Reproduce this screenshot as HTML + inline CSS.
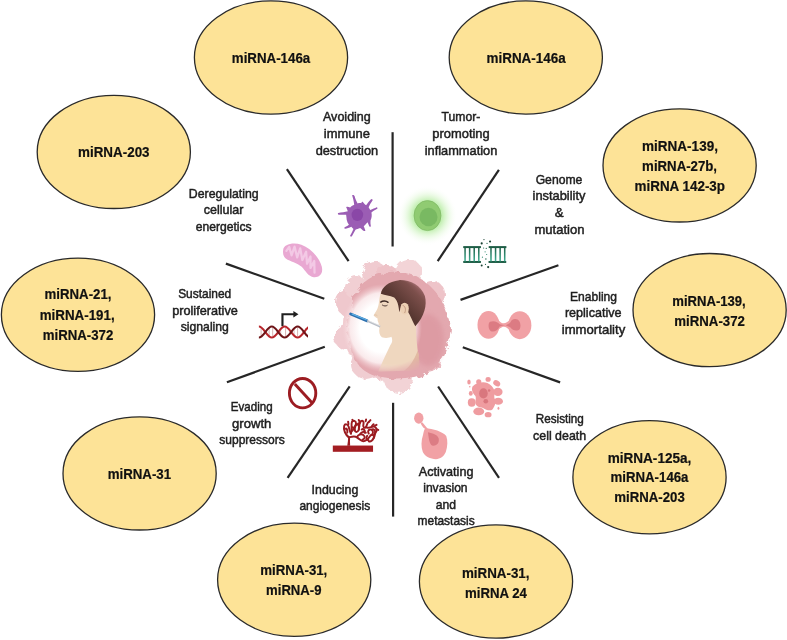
<!DOCTYPE html>
<html><head><meta charset="utf-8"><style>
html,body{margin:0;padding:0;background:#fff;}
svg{display:block;}
.tx{will-change:transform;}
.b{font-family:"Liberation Sans",sans-serif;font-weight:bold;font-size:14px;fill:#111111;stroke:#111;stroke-width:0.2px;}
.r{font-family:"Liberation Sans",sans-serif;font-size:13.5px;fill:#1e1e1e;stroke:#1e1e1e;stroke-width:0.5px;}
</style></head><body>
<div style="will-change:transform;width:787px;height:640px;overflow:hidden"><svg width="787" height="640" viewBox="0 0 787 640">
<defs>
<radialGradient id="glow" cx="50%" cy="50%" r="50%">
<stop offset="0" stop-color="#86dc64" stop-opacity="0.85"/>
<stop offset="0.5" stop-color="#9fe684" stop-opacity="0.6"/>
<stop offset="0.72" stop-color="#cdf3bd" stop-opacity="0.35"/>
<stop offset="1" stop-color="#ffffff" stop-opacity="0"/>
</radialGradient>
<radialGradient id="hole" cx="50%" cy="50%" r="50%">
<stop offset="0" stop-color="#ffffff"/>
<stop offset="0.55" stop-color="#ffffff"/>
<stop offset="0.8" stop-color="#fcf1f2" stop-opacity="0.9"/>
<stop offset="1" stop-color="#f3d0d4" stop-opacity="0"/>
</radialGradient>
<filter id="rough" x="-20%" y="-20%" width="140%" height="140%">
<feTurbulence type="fractalNoise" baseFrequency="0.035" numOctaves="3" seed="5"/>
<feDisplacementMap in="SourceGraphic" scale="28"/>
</filter>
<filter id="rough2" x="-20%" y="-20%" width="140%" height="140%">
<feTurbulence type="fractalNoise" baseFrequency="0.16" numOctaves="3" seed="7"/>
<feDisplacementMap in="SourceGraphic" scale="6"/>
</filter>
<linearGradient id="rung" x1="0" y1="0" x2="0" y2="1">
<stop offset="0" stop-color="#1f6048"/>
<stop offset="1" stop-color="#3fae93"/>
</linearGradient>
<radialGradient id="hm" gradientUnits="userSpaceOnUse" cx="392" cy="322" r="54">
<stop offset="0" stop-color="#fff"/>
<stop offset="0.78" stop-color="#fff"/>
<stop offset="1" stop-color="#000"/>
</radialGradient>
<mask id="headmask" maskUnits="userSpaceOnUse" x="300" y="240" width="180" height="180"><rect x="300" y="240" width="180" height="180" fill="url(#hm)"/></mask>
<linearGradient id="hair" x1="0" y1="1" x2="1" y2="0">
<stop offset="0" stop-color="#4a2e29"/>
<stop offset="0.45" stop-color="#573731"/>
<stop offset="0.75" stop-color="#7c4f4b"/>
<stop offset="1" stop-color="#b97880"/>
</linearGradient>
<filter id="blur1"><feGaussianBlur stdDeviation="2"/></filter>
</defs>
<rect width="787" height="640" fill="#fff"/>

<line x1="392.6" y1="132.2" x2="392.6" y2="246.5" stroke="#262626" stroke-width="2.2"/>
<line x1="286.9" y1="169.2" x2="348.6" y2="261.2" stroke="#262626" stroke-width="2.2"/>
<line x1="225.9" y1="263.6" x2="324.3" y2="298.7" stroke="#262626" stroke-width="2.2"/>
<line x1="226.9" y1="382.3" x2="324.8" y2="346.7" stroke="#262626" stroke-width="2.2"/>
<line x1="349.7" y1="386.4" x2="287.6" y2="477.9" stroke="#262626" stroke-width="2.2"/>
<line x1="393.1" y1="402.8" x2="393.1" y2="516.6" stroke="#262626" stroke-width="2.2"/>
<line x1="438.1" y1="386.5" x2="499.0" y2="477.8" stroke="#262626" stroke-width="2.2"/>
<line x1="462.8" y1="347.3" x2="560.1" y2="382.4" stroke="#262626" stroke-width="2.2"/>
<line x1="558.4" y1="265.2" x2="460.5" y2="299.9" stroke="#262626" stroke-width="2.2"/>
<line x1="498.9" y1="169.8" x2="437.7" y2="261.1" stroke="#262626" stroke-width="2.2"/>
<ellipse cx="271" cy="57.5" rx="76.6" ry="56.6" fill="#FDE397" stroke="#2a2a2a" stroke-width="1.3"/>
<text class="b" x="271.0" y="62.5" text-anchor="middle" textLength="78.4" lengthAdjust="spacingAndGlyphs">miRNA-146a</text>
<ellipse cx="525.8" cy="57.5" rx="76.6" ry="56.6" fill="#FDE397" stroke="#2a2a2a" stroke-width="1.3"/>
<text class="b" x="526.1" y="62.5" text-anchor="middle" textLength="79.0" lengthAdjust="spacingAndGlyphs">miRNA-146a</text>
<ellipse cx="113.8" cy="151.9" rx="76.6" ry="56.6" fill="#FDE397" stroke="#2a2a2a" stroke-width="1.3"/>
<text class="b" x="113.8" y="157.4" text-anchor="middle" textLength="71.5" lengthAdjust="spacingAndGlyphs">miRNA-203</text>
<ellipse cx="679.6" cy="165.4" rx="76.6" ry="56.6" fill="#FDE397" stroke="#2a2a2a" stroke-width="1.3"/>
<text class="b" x="680.0" y="150.7" text-anchor="middle" textLength="75.9" lengthAdjust="spacingAndGlyphs">miRNA-139,</text>
<text class="b" x="679.6" y="170.9" text-anchor="middle" transform="translate(679.6 0) scale(0.945 1) translate(-679.6 0)">miRNA-27b,</text>
<text class="b" x="679.8" y="191.1" text-anchor="middle" textLength="90.4" lengthAdjust="spacingAndGlyphs">miRNA 142-3p</text>
<ellipse cx="78" cy="314.7" rx="76.6" ry="56.6" fill="#FDE397" stroke="#2a2a2a" stroke-width="1.3"/>
<text class="b" x="78" y="299.5" text-anchor="middle" transform="translate(78 0) scale(0.945 1) translate(-78 0)">miRNA-21,</text>
<text class="b" x="77.2" y="319.6" text-anchor="middle" textLength="75.0" lengthAdjust="spacingAndGlyphs">miRNA-191,</text>
<text class="b" x="78" y="340.2" text-anchor="middle" transform="translate(78 0) scale(0.945 1) translate(-78 0)">miRNA-372</text>
<ellipse cx="709.6" cy="310.1" rx="76.6" ry="56.6" fill="#FDE397" stroke="#2a2a2a" stroke-width="1.3"/>
<text class="b" x="709.0" y="305.6" text-anchor="middle" textLength="73.5" lengthAdjust="spacingAndGlyphs">miRNA-139,</text>
<text class="b" x="709.6" y="325.6" text-anchor="middle" transform="translate(709.6 0) scale(0.945 1) translate(-709.6 0)">miRNA-372</text>
<ellipse cx="139.6" cy="473.4" rx="76.6" ry="56.6" fill="#FDE397" stroke="#2a2a2a" stroke-width="1.3"/>
<text class="b" x="139.4" y="479.2" text-anchor="middle" textLength="63.5" lengthAdjust="spacingAndGlyphs">miRNA-31</text>
<ellipse cx="649.5" cy="477.2" rx="76.6" ry="56.6" fill="#FDE397" stroke="#2a2a2a" stroke-width="1.3"/>
<text class="b" x="649.5" y="462.5" text-anchor="middle" textLength="83.7" lengthAdjust="spacingAndGlyphs">miRNA-125a,</text>
<text class="b" x="649.5" y="482.4" text-anchor="middle" transform="translate(649.5 0) scale(0.945 1) translate(-649.5 0)">miRNA-146a</text>
<text class="b" x="649.5" y="502.5" text-anchor="middle" transform="translate(649.5 0) scale(0.945 1) translate(-649.5 0)">miRNA-203</text>
<ellipse cx="294.2" cy="579.8" rx="76.6" ry="56.6" fill="#FDE397" stroke="#2a2a2a" stroke-width="1.3"/>
<text class="b" x="293.8" y="575.1" text-anchor="middle" textLength="67.0" lengthAdjust="spacingAndGlyphs">miRNA-31,</text>
<text class="b" x="293.8" y="595.2" text-anchor="middle" textLength="55.5" lengthAdjust="spacingAndGlyphs">miRNA-9</text>
<ellipse cx="496" cy="581.5" rx="76.6" ry="56.6" fill="#FDE397" stroke="#2a2a2a" stroke-width="1.3"/>
<text class="b" x="495.7" y="578.1" text-anchor="middle" textLength="67.6" lengthAdjust="spacingAndGlyphs">miRNA-31,</text>
<text class="b" x="496" y="598.0" text-anchor="middle" transform="translate(496 0) scale(0.945 1) translate(-496 0)">miRNA 24</text>
<text class="r" x="346.9" y="120.6" text-anchor="middle" textLength="47.8" lengthAdjust="spacingAndGlyphs">Avoiding</text>
<text class="r" x="346.9" y="138.4" text-anchor="middle" textLength="46.1" lengthAdjust="spacingAndGlyphs">immune</text>
<text class="r" x="346.9" y="154.9" text-anchor="middle" textLength="62.5" lengthAdjust="spacingAndGlyphs">destruction</text>
<text class="r" x="460.9" y="120.6" text-anchor="middle" textLength="38.7" lengthAdjust="spacingAndGlyphs">Tumor-</text>
<text class="r" x="461.0" y="137.7" text-anchor="middle" textLength="57.4" lengthAdjust="spacingAndGlyphs">promoting</text>
<text class="r" x="461.0" y="154.9" text-anchor="middle" textLength="72.6" lengthAdjust="spacingAndGlyphs">inflammation</text>
<text class="r" x="223.7" y="197.7" text-anchor="middle" textLength="69.8" lengthAdjust="spacingAndGlyphs">Deregulating</text>
<text class="r" x="223.6" y="214.0" text-anchor="middle" textLength="39.6" lengthAdjust="spacingAndGlyphs">cellular</text>
<text class="r" x="223.7" y="230.8" text-anchor="middle" textLength="55.9" lengthAdjust="spacingAndGlyphs">energetics</text>
<text class="r" x="559.0" y="183.7" text-anchor="middle" textLength="46.7" lengthAdjust="spacingAndGlyphs">Genome</text>
<text class="r" x="559.0" y="200.2" text-anchor="middle" textLength="52.9" lengthAdjust="spacingAndGlyphs">instability</text>
<text class="r" x="559.1" y="216.7" text-anchor="middle" textLength="8.9" lengthAdjust="spacingAndGlyphs">&</text>
<text class="r" x="559.5" y="233.9" text-anchor="middle" textLength="50.1" lengthAdjust="spacingAndGlyphs">mutation</text>
<text class="r" x="204.7" y="298.1" text-anchor="middle" textLength="53.1" lengthAdjust="spacingAndGlyphs">Sustained</text>
<text class="r" x="205.0" y="314.6" text-anchor="middle" textLength="65.6" lengthAdjust="spacingAndGlyphs">proliferative</text>
<text class="r" x="204.8" y="331.2" text-anchor="middle" textLength="48.2" lengthAdjust="spacingAndGlyphs">signaling</text>
<text class="r" x="593.5" y="300.5" text-anchor="middle" textLength="47.0" lengthAdjust="spacingAndGlyphs">Enabling</text>
<text class="r" x="593.2" y="317.0" text-anchor="middle" textLength="56.6" lengthAdjust="spacingAndGlyphs">replicative</text>
<text class="r" x="593.5" y="333.5" text-anchor="middle" textLength="63.5" lengthAdjust="spacingAndGlyphs">immortality</text>
<text class="r" x="251.7" y="411.2" text-anchor="middle" textLength="41.9" lengthAdjust="spacingAndGlyphs">Evading</text>
<text class="r" x="251.7" y="427.7" text-anchor="middle" textLength="39.4" lengthAdjust="spacingAndGlyphs">growth</text>
<text class="r" x="252.0" y="444.2" text-anchor="middle" textLength="65.4" lengthAdjust="spacingAndGlyphs">suppressors</text>
<text class="r" x="559.8" y="422.7" text-anchor="middle" textLength="48.2" lengthAdjust="spacingAndGlyphs">Resisting</text>
<text class="r" x="559.6" y="439.6" text-anchor="middle" textLength="53.1" lengthAdjust="spacingAndGlyphs">cell death</text>
<text class="r" x="335.0" y="493.6" text-anchor="middle" textLength="46.8" lengthAdjust="spacingAndGlyphs">Inducing</text>
<text class="r" x="334.8" y="510.4" text-anchor="middle" textLength="70.8" lengthAdjust="spacingAndGlyphs">angiogenesis</text>
<text class="r" x="446.1" y="475.6" text-anchor="middle" textLength="54.6" lengthAdjust="spacingAndGlyphs">Activating</text>
<text class="r" x="445.4" y="492.1" text-anchor="middle" textLength="44.4" lengthAdjust="spacingAndGlyphs">invasion</text>
<text class="r" x="445.9" y="508.6" text-anchor="middle" textLength="20.3" lengthAdjust="spacingAndGlyphs">and</text>
<text class="r" x="446.1" y="525.1" text-anchor="middle" textLength="57.1" lengthAdjust="spacingAndGlyphs">metastasis</text>
<!-- green glowing cell -->
<circle cx="427.5" cy="215.6" r="30" fill="url(#glow)"/>
<ellipse cx="427.5" cy="215.6" rx="13.5" ry="15" fill="#90cb72" stroke="#7cb863" stroke-width="0.7"/>
<ellipse cx="428.5" cy="217" rx="9" ry="9.2" fill="#79b962"/>

<!-- purple cell -->
<g transform="translate(330,185) scale(0.09375)">
<path d="M88,298 C120,292 160,288 190,280 C185,262 178,245 172,236 C185,228 200,236 215,240 C228,225 245,215 258,210 C255,170 245,140 236,108 C250,104 258,110 262,118 C270,150 285,180 295,196 C310,192 325,192 333,195 C336,182 342,176 348,178 C356,188 370,205 385,215 C400,195 420,165 440,148 C452,148 458,156 455,162 C440,185 420,215 412,238 C418,250 425,262 430,266 C455,255 480,245 497,236 C507,238 510,248 503,253 C480,265 458,280 442,292 C448,320 446,350 432,378 C430,400 432,420 436,440 C430,448 420,446 418,440 C410,420 405,405 400,398 C385,415 372,430 360,440 C368,460 374,475 378,484 C370,492 358,490 352,486 C340,472 330,462 322,458 C300,466 285,470 272,476 C258,500 244,525 232,548 C222,552 212,546 215,538 C228,515 242,490 250,468 C240,458 232,448 228,444 C205,455 180,462 162,466 C150,464 150,452 158,450 C175,442 195,430 202,424 C190,408 182,390 178,370 C176,350 174,332 172,318 C145,316 115,316 92,316 C82,312 82,302 88,298 Z" fill="#9b5db4"/>
<ellipse cx="292" cy="318" rx="62" ry="66" fill="#8a47a7"/>
</g>

<!-- mitochondrion -->
<g transform="translate(270,230) scale(0.09375)">
<path d="M140,215 C145,150 250,128 335,158 C435,195 525,290 552,390 C572,470 522,508 468,503 C408,498 378,432 338,392 C288,348 218,338 168,303 C142,282 136,250 140,215 Z" fill="#e9a8d2"/>
<path d="M175,222 L205,180 L230,270 L262,178 L290,292 L322,195 L345,320 L385,232 L395,360 L432,282 L432,405 L472,330 L475,455" fill="none" stroke="#f3c9e5" stroke-width="24" stroke-linejoin="round" stroke-linecap="round"/>
</g>

<!-- DNA ladder teal -->
<g transform="translate(455,232) scale(0.07624)" fill="#1c5c44">
<rect x="108" y="185" width="232" height="26"/>
<rect x="108" y="380" width="232" height="26"/>
<rect x="122" y="205" width="20" height="180" fill="url(#rung)"/>
<rect x="182" y="205" width="20" height="180" fill="url(#rung)"/>
<rect x="242" y="205" width="20" height="180" fill="url(#rung)"/>
<rect x="302" y="205" width="20" height="180" fill="url(#rung)"/>
<rect x="442" y="185" width="232" height="26"/>
<rect x="440" y="380" width="232" height="26"/>
<rect x="462" y="205" width="20" height="180" fill="url(#rung)"/>
<rect x="522" y="205" width="20" height="180" fill="url(#rung)"/>
<rect x="582" y="205" width="20" height="180" fill="url(#rung)"/>
<rect x="642" y="205" width="20" height="180" fill="url(#rung)"/>
<circle cx="350" cy="150" r="14" fill="#173f30"/><circle cx="460" cy="125" r="14" fill="#173f30"/><circle cx="380" cy="100" r="8" fill="#173f30"/>
<circle cx="420" cy="150" r="8" fill="#2a6b55"/><circle cx="375" cy="210" r="8" fill="#2a6b55"/><circle cx="410" cy="215" r="8" fill="#2a6b55"/>
<circle cx="395" cy="260" r="8" fill="#3a8f75"/><circle cx="415" cy="295" r="8" fill="#3a8f75"/><circle cx="360" cy="330" r="8" fill="#3a8f75"/>
<circle cx="405" cy="355" r="10" fill="#2a6b55"/><circle cx="350" cy="440" r="13" fill="#173f30"/><circle cx="435" cy="460" r="14" fill="#173f30"/><circle cx="400" cy="425" r="8" fill="#2a6b55"/>
</g>

<!-- DNA helix + arrow -->
<clipPath id="hclip"><rect x="250" y="300" width="58" height="50"/></clipPath><g clip-path="url(#hclip)"><g transform="translate(250,300) scale(0.08894)">
<path d="M365,295 L365,160 L495,160" fill="none" stroke="#1f1f1f" stroke-width="24"/>
<path d="M488,125 L545,160 L488,197 Z" fill="#1f1f1f"/>
<g stroke="#d4aaaa" stroke-width="10">
<line x1="125" y1="320" x2="125" y2="400"/><line x1="215" y1="310" x2="215" y2="410"/><line x1="255" y1="310" x2="255" y2="410"/>
<line x1="345" y1="310" x2="345" y2="410"/><line x1="400" y1="310" x2="400" y2="410"/>
<line x1="495" y1="310" x2="495" y2="410"/><line x1="535" y1="310" x2="535" y2="410"/><line x1="625" y1="320" x2="625" y2="400"/>
</g>
<path d="M100,298 C153,298 192,422 245,422 C298,422 337,298 390,298 C443,298 482,422 535,422 C588,422 627,298 680,298" fill="none" stroke="#b8262c" stroke-width="24"/>
<path d="M100,422 C153,422 192,298 245,298 C298,298 337,422 390,422 C443,422 482,298 535,298 C588,298 627,422 680,422" fill="none" stroke="#6e1518" stroke-width="24"/>
</g></g>

<!-- dividing cell -->
<g transform="translate(470,300) scale(0.08894)">
<g fill="#f1a1a5">
<ellipse cx="208" cy="280" rx="124" ry="155"/>
<ellipse cx="560" cy="283" rx="130" ry="157"/>
<path d="M290,205 C330,235 350,262 380,262 C410,262 430,235 470,205 L470,360 C430,330 410,302 380,302 C350,302 330,330 290,360 Z"/>
</g>
<path d="M225,245 C270,225 315,250 330,270 C350,278 370,280 395,282 C370,290 345,292 330,300 C315,340 270,365 235,350 C205,335 200,260 225,245 Z" fill="#dc7b83"/>
<path d="M505,215 C560,210 580,280 560,325 C540,355 480,350 455,310 C440,300 420,292 400,285 C425,275 445,265 455,250 C465,225 485,215 505,215 Z" fill="#dc7b83"/>
</g>

<!-- no sign -->
<ellipse cx="302.6" cy="393.2" rx="13.2" ry="14.7" fill="none" stroke="#9c1c22" stroke-width="2.9"/>
<line x1="294.8" y1="384.1" x2="312" y2="402.8" stroke="#9c1c22" stroke-width="2.9"/>

<!-- angiogenesis -->
<g transform="translate(325,410) scale(0.078125)">
<rect x="100" y="455" width="515" height="80" fill="#a31d22"/>
<path d="M285,458 C292,420 295,380 298,340 L322,340 C320,380 318,420 322,458 Z" fill="#9b1b20"/>
<g fill="none" stroke="#9b1b20" stroke-width="25" stroke-linecap="round" stroke-linejoin="round">
<path d="M305,350 C265,320 232,255 245,205 C255,172 292,180 302,212 C312,245 318,282 332,302"/>
<path d="M332,302 C352,252 330,182 345,152 C360,127 397,137 397,172 C397,202 372,232 382,262 C392,292 422,282 432,252"/>
<path d="M382,262 C362,232 382,192 412,182 C432,177 447,202 432,232"/>
<path d="M432,252 C442,212 432,162 462,142 C482,132 502,152 492,182 C482,212 502,242 522,222 C542,202 532,162 562,152"/>
<path d="M522,222 C562,242 602,202 632,212 C662,222 672,262 652,282 C632,302 642,332 622,362"/>
<path d="M305,350 C350,340 380,330 410,350 C440,370 460,400 490,400 C530,400 560,360 580,330 C600,300 640,320 622,362 C605,392 582,410 560,400"/>
<path d="M410,350 C420,320 460,300 490,320 C520,340 510,370 480,380"/>
<path d="M560,302 C540,272 560,242 590,252 C620,262 620,302 600,322"/>
<path d="M452,302 C472,282 502,272 522,292"/>
<path d="M262,240 C280,230 290,260 285,290 M345,220 C370,215 365,250 350,265 M470,250 C490,235 520,260 505,290 M600,250 C630,240 650,270 640,300 M540,330 C520,360 530,390 555,385 M430,200 C415,180 430,160 445,170"/>
<path d="M562,152 L582,130 M602,205 L622,182 M655,245 L682,255 M520,145 L526,122 M442,150 L432,128 M300,180 L296,150 M360,140 L350,125 M640,200 L660,190"/>
</g>
</g>

<!-- migrating cell -->
<g transform="translate(405,405) scale(0.09375)" fill="#f1a1a5">
<ellipse cx="147" cy="140" rx="50" ry="60"/>
<path d="M180,180 C205,205 228,235 245,258 C205,262 190,235 168,200 Z"/>
<path d="M215,245 C300,255 400,280 440,330 C458,380 455,440 435,500 C415,548 375,572 330,578 C270,572 212,548 190,500 C170,450 172,380 192,320 C198,290 205,262 215,245 Z"/>
<path d="M245,290 C300,300 350,320 360,360 C365,400 350,430 300,435 C265,430 255,380 245,290 Z" fill="#dc7c84"/>
</g>

<!-- apoptotic cell -->
<g transform="translate(460,370) scale(0.078125)" fill="#ef9ca0">
<path d="M160,210 C200,165 290,145 350,165 C400,185 425,225 440,260 C455,300 425,340 450,380 C465,420 440,470 415,505 C385,530 330,510 300,490 C265,470 225,480 205,445 C185,405 215,365 195,330 C170,300 140,260 160,210 Z"/>
<ellipse cx="115" cy="155" rx="22" ry="32"/>
<circle cx="240" cy="150" r="33"/>
<ellipse cx="360" cy="120" rx="33" ry="30"/>
<ellipse cx="470" cy="170" rx="48" ry="36" transform="rotate(35 470 170)"/>
<ellipse cx="485" cy="280" rx="60" ry="54"/>
<ellipse cx="138" cy="300" rx="25" ry="30"/>
<ellipse cx="150" cy="415" rx="50" ry="54"/>
<ellipse cx="490" cy="400" rx="60" ry="46"/>
<ellipse cx="240" cy="530" rx="70" ry="50"/>
<ellipse cx="360" cy="572" rx="44" ry="33"/>
<ellipse cx="492" cy="490" rx="12" ry="20"/>
<circle cx="125" cy="215" r="10"/>
<ellipse cx="300" cy="300" rx="55" ry="65" fill="#d9777e"/>
<circle cx="330" cy="400" r="30" fill="#d9777e"/>
<circle cx="372" cy="262" r="16" fill="#d9777e"/>
</g>

<!-- central illustration -->
<g filter="url(#rough2)">
<ellipse cx="392" cy="325" rx="49" ry="57" fill="#f0c9cd"/>
<circle cx="374" cy="273" r="12" fill="#f0cbd0"/>
<circle cx="408" cy="273" r="14" fill="#f3d4d7"/>
<circle cx="432" cy="294" r="13" fill="#eec4c9"/>
<circle cx="436" cy="328" r="15" fill="#e7b2b8"/>
<circle cx="428" cy="360" r="13" fill="#ebbcc2"/>
<circle cx="398" cy="378" r="15" fill="#f2d3d6"/>
<circle cx="366" cy="364" r="15" fill="#f0cdd1"/>
<circle cx="347" cy="337" r="13" fill="#f0cbd0"/>
<circle cx="350" cy="303" r="14" fill="#efc8cd"/>
<circle cx="357" cy="288" r="12" fill="#f1cfd3"/>
<circle cx="387" cy="276" r="11" fill="#eec3c8"/>
</g>
<g filter="url(#rough2)">
<path d="M353,300 C358,280 380,270 400,272 C425,275 445,295 450,325 C452,350 440,372 415,378 C390,382 365,378 355,360 C345,340 348,318 353,300 Z" fill="#e3a8af"/>
</g>
<ellipse cx="428" cy="340" rx="16" ry="26" fill="#d9929b" opacity="0.55" filter="url(#blur1)"/>
<ellipse cx="382" cy="328" rx="40" ry="44" fill="url(#hole)"/>
<!-- head -->
<g mask="url(#headmask)"><g transform="translate(345,270) scale(0.140625)">
<path d="M258,150 C248,180 243,215 240,240 C236,262 228,288 212,308 L205,322 C210,335 225,340 232,345 C230,360 235,370 240,380 L238,395 L245,415 C240,440 245,465 262,478 C290,487 315,482 330,475 C338,495 340,515 322,535 C290,600 260,670 235,724 L528,713 C530,650 525,600 517,572 C510,520 505,460 505,400 L540,300 L500,140 L380,150 Z" fill="#efd7bf"/>
<path d="M517,572 C500,620 470,680 420,716 L528,713 C532,660 528,610 517,572 Z" fill="#dcae96" opacity="0.7" filter="url(#blur1)"/>
<path d="M255,168 C262,120 310,82 385,72 C465,70 540,110 568,185 C585,250 565,330 500,400 C480,360 462,320 450,300 L445,270 C440,240 420,232 404,244 L386,300 C382,250 372,215 350,195 C318,178 285,180 255,168 Z" fill="url(#hair)"/>
<ellipse cx="424" cy="274" rx="30" ry="42" fill="#ecd0b4"/>
<path d="M410,252 C428,254 436,282 424,306" fill="none" stroke="#c29a82" stroke-width="7"/>
<path d="M264,248 C277,258 292,258 302,250" fill="none" stroke="#4a3530" stroke-width="7"/>
<path d="M254,228 C268,218 292,218 306,230" fill="none" stroke="#3e2a25" stroke-width="10" stroke-linecap="round"/>
<path d="M205,322 C212,318 222,318 230,325" fill="none" stroke="#d8b498" stroke-width="4"/>
</g></g>
<!-- thermometer -->
<g transform="translate(345,270) scale(0.140625)">
<line x1="40" y1="313" x2="158" y2="362" stroke="#2c6fae" stroke-width="20" stroke-linecap="round"/>
<line x1="48" y1="312" x2="155" y2="356" stroke="#5fb0e6" stroke-width="8"/>
<line x1="158" y1="362" x2="250" y2="402" stroke="#b9bec6" stroke-width="14"/>
<line x1="160" y1="357" x2="250" y2="397" stroke="#f4f4f4" stroke-width="4"/>
</g>

</svg></div></body></html>
